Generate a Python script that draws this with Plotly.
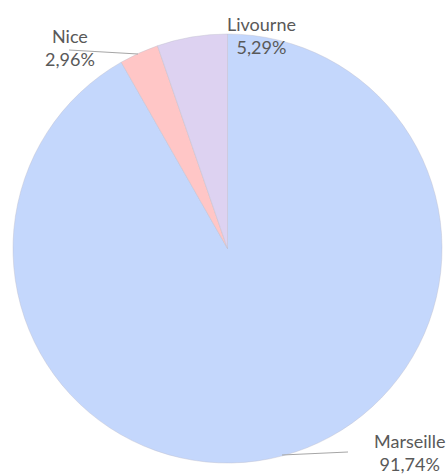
import plotly.graph_objects as go

labels = ["Marseille", "Nice", "Livourne"]
values = [91.74, 2.96, 5.29]
colors = ["#c4d7fc", "#ffc6c6", "#ddd2f1"]

W, H = 448, 475

fig = go.Figure(go.Pie(
    labels=labels,
    values=values,
    sort=False,
    direction="clockwise",
    rotation=0,
    textinfo="none",
    hoverinfo="skip",
    marker=dict(colors=colors, line=dict(color="rgba(190,190,205,0.7)", width=0.6)),
    domain=dict(x=[13 / W, 442 / W], y=[1 - 463 / H, 1 - 34 / H]),
    showlegend=False,
))

# label placements (pixel coords) for each category
label_pos = {"Marseille": (410, 452), "Nice": (70, 47), "Livourne": (261, 35)}
leaders = {"Marseille": ((282, 455), (348, 452)), "Nice": ((69, 50), (138, 54))}

def px(x, y):
    return x / W, 1 - y / H

for lab, val in zip(labels, values):
    x, y = px(*label_pos[lab])
    txt = f"{lab}<br>{val:.2f}%".replace(".", ",")
    fig.add_annotation(x=x, y=y, xref="paper", yref="paper", text=txt,
                       showarrow=False, xanchor="center", yanchor="middle",
                       font=dict(family="Lato, Noto Sans, sans-serif", size=18, color="#595959"))
    if lab in leaders:
        (x0, y0), (x1, y1) = leaders[lab]
        a0, b0 = px(x0, y0)
        a1, b1 = px(x1, y1)
        fig.add_shape(type="line", xref="paper", yref="paper", x0=a0, y0=b0, x1=a1, y1=b1,
                      line=dict(color="#a6a6a6", width=1.2))

fig.update_layout(
    width=W, height=H,
    margin=dict(l=0, r=0, t=0, b=0),
    paper_bgcolor="white",
    plot_bgcolor="white",
)

fig.write_html("out.html", config={"displayModeBar": False},
               post_script="document.body.style.margin='0';document.body.style.overflow='hidden';")
